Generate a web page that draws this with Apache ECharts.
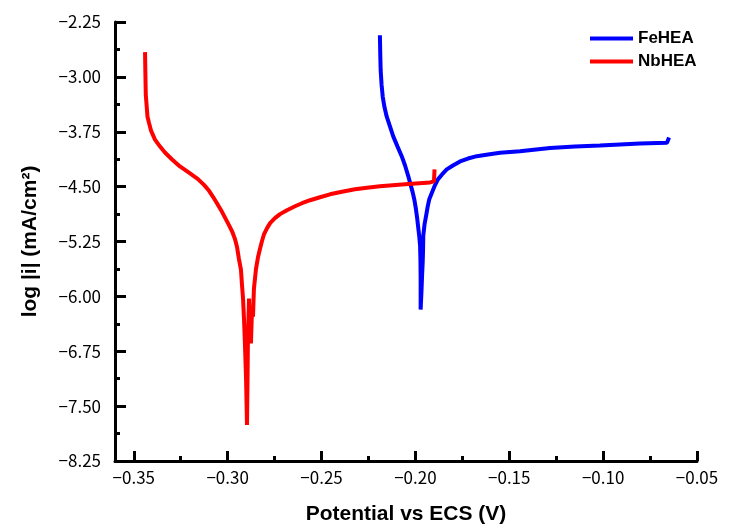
<!DOCTYPE html>
<html>
<head>
<meta charset="utf-8">
<script src="https://cdn.jsdelivr.net/npm/echarts@6/dist/echarts.min.js"></script>
<style>
  html, body { margin: 0; padding: 0; background: #fff; }
  #chart { width: 737px; height: 530px; }
</style>
</head>
<body>
<div id="chart"></div>
<script>
// FeHEA (blue) - potential (V) and log|i|
var feX = [-0.2189, -0.2187, -0.2185, -0.2180, -0.2174, -0.2165, -0.2153, -0.2135, -0.2118, -0.2095, -0.2073, -0.2055,
  -0.2038, -0.2026, -0.2014, -0.2005, -0.1997, -0.1990, -0.1984, -0.1979, -0.1975, -0.1973, -0.1972, -0.1972,
  -0.1967, -0.1964, -0.1961, -0.1959, -0.1958, -0.1951, -0.1943, -0.1935, -0.1926, -0.1911, -0.1896, -0.1880,
  -0.1858, -0.1833, -0.1800, -0.1762, -0.1720, -0.1673, -0.1613, -0.1549, -0.1443, -0.1283, -0.1150, -0.1017,
  -0.0910, -0.0804, -0.0660, -0.0649];
var feY = [-2.431, -2.702, -2.906, -3.110, -3.269, -3.409, -3.541, -3.681, -3.813, -3.953, -4.084, -4.211,
  -4.356, -4.469, -4.582, -4.686, -4.808, -4.944, -5.080, -5.189, -5.307, -5.515, -5.760, -6.181,
  -5.895, -5.692, -5.529, -5.352, -5.171, -5.012, -4.899, -4.781, -4.673, -4.577, -4.482, -4.401,
  -4.333, -4.265, -4.211, -4.156, -4.116, -4.084, -4.061, -4.038, -4.016, -3.973, -3.953, -3.939,
  -3.925, -3.912, -3.902, -3.830];

// NbHEA (red)
var nbX = [-0.3440, -0.3438, -0.3436, -0.3431, -0.3427, -0.3419, -0.3408, -0.3387, -0.3360, -0.3334, -0.3296,
  -0.3254, -0.3206, -0.3158, -0.3126, -0.3099, -0.3078, -0.3057, -0.3035, -0.3014, -0.2993, -0.2977, -0.2961,
  -0.2950, -0.2940, -0.2929, -0.2924, -0.2918, -0.2913, -0.2908, -0.2902, -0.2897, -0.2894, -0.2892, -0.2886,
  -0.2881, -0.2876, -0.2870, -0.2865, -0.2860, -0.2849, -0.2838, -0.2828, -0.2817, -0.2806, -0.2790, -0.2774,
  -0.2748, -0.2721, -0.2684, -0.2641, -0.2604, -0.2561, -0.2508, -0.2455, -0.2391, -0.2322, -0.2258, -0.2189,
  -0.2055, -0.1922, -0.1901, -0.1898];
var nbY = [-2.662, -2.974, -3.246, -3.409, -3.545, -3.626, -3.735, -3.857, -3.953, -4.034, -4.129,
  -4.224, -4.310, -4.398, -4.476, -4.557, -4.639, -4.727, -4.822, -4.924, -5.026, -5.107, -5.216,
  -5.325, -5.488, -5.637, -5.828, -6.031, -6.303, -6.643, -7.118, -7.757, -7.118, -6.575, -6.031,
  -6.439, -6.643, -6.167, -6.276, -5.895, -5.624, -5.461, -5.352, -5.243, -5.148, -5.067, -4.999,
  -4.931, -4.876, -4.822, -4.768, -4.727, -4.686, -4.645, -4.605, -4.571, -4.537, -4.516, -4.496,
  -4.469, -4.442, -4.428, -4.265];

var xMajor = [-0.35, -0.30, -0.25, -0.20, -0.15, -0.10, -0.05];
var xMinor = [-0.325, -0.275, -0.225, -0.175, -0.125, -0.075];

function pairs(xs, ys) {
  return xs.map(function (x, i) { return [x, ys[i]]; });
}
function fmt(v) {
  return (v < 0 ? '\u2212' : '') + Math.abs(v).toFixed(2);
}

var labelFont = { color: '#000', fontSize: 17, fontFamily: 'Noto Sans CJK JP' };
var nameFont = { color: '#000', fontSize: 21, fontWeight: 'bold', fontFamily: 'Liberation Sans' };

var chart = echarts.init(document.getElementById('chart'));
chart.setOption({
  animation: false,
  grid: { left: 115, right: 40, top: 22, bottom: 67 },
  legend: {
    data: ['FeHEA', 'NbHEA'],
    orient: 'vertical',
    left: 585,
    top: 25,
    icon: 'rect',
    itemWidth: 43,
    itemHeight: 4,
    itemGap: 6,
    textStyle: { color: '#000', fontSize: 17, fontWeight: 'bold', fontFamily: 'Liberation Sans' }
  },
  xAxis: [{
    type: 'value',
    min: -0.36,
    max: -0.05,
    name: 'Potential vs ECS (V)',
    nameLocation: 'middle',
    nameGap: 43,
    nameTextStyle: nameFont,
    axisLine: { lineStyle: { color: '#000', width: 3 } },
    axisTick: { inside: true, length: 10, customValues: xMajor, lineStyle: { color: '#000', width: 3 } },
    axisLabel: Object.assign({ customValues: xMajor, margin: 8, formatter: fmt }, labelFont),
    splitLine: { show: false }
  }, {
    type: 'value',
    min: -0.36,
    max: -0.05,
    position: 'bottom',
    axisLine: { show: false },
    axisTick: { inside: true, length: 5, customValues: xMinor, lineStyle: { color: '#000', width: 3 } },
    axisLabel: { show: false },
    splitLine: { show: false }
  }],
  yAxis: {
    type: 'value',
    min: -8.25,
    max: -2.25,
    interval: 0.75,
    name: 'log |i| (mA/cm\u00b2)',
    nameLocation: 'middle',
    nameGap: 74,
    nameTextStyle: nameFont,
    axisLine: { show: true, lineStyle: { color: '#000', width: 3 } },
    axisTick: { show: true, inside: true, length: 11, lineStyle: { color: '#000', width: 3 } },
    minorTick: { show: true, splitNumber: 2, length: 5, lineStyle: { color: '#000', width: 3 } },
    axisLabel: Object.assign({ margin: 14, formatter: fmt }, labelFont),
    splitLine: { show: false },
    minorSplitLine: { show: false }
  },
  series: [{
    name: 'FeHEA',
    type: 'line',
    showSymbol: false,
    color: '#0000ff',
    lineStyle: { width: 4, color: '#0000ff' },
    data: pairs(feX, feY)
  }, {
    name: 'NbHEA',
    type: 'line',
    showSymbol: false,
    color: '#ff0000',
    lineStyle: { width: 4, color: '#ff0000' },
    data: pairs(nbX, nbY)
  }]
});
</script>
</body>
</html>
